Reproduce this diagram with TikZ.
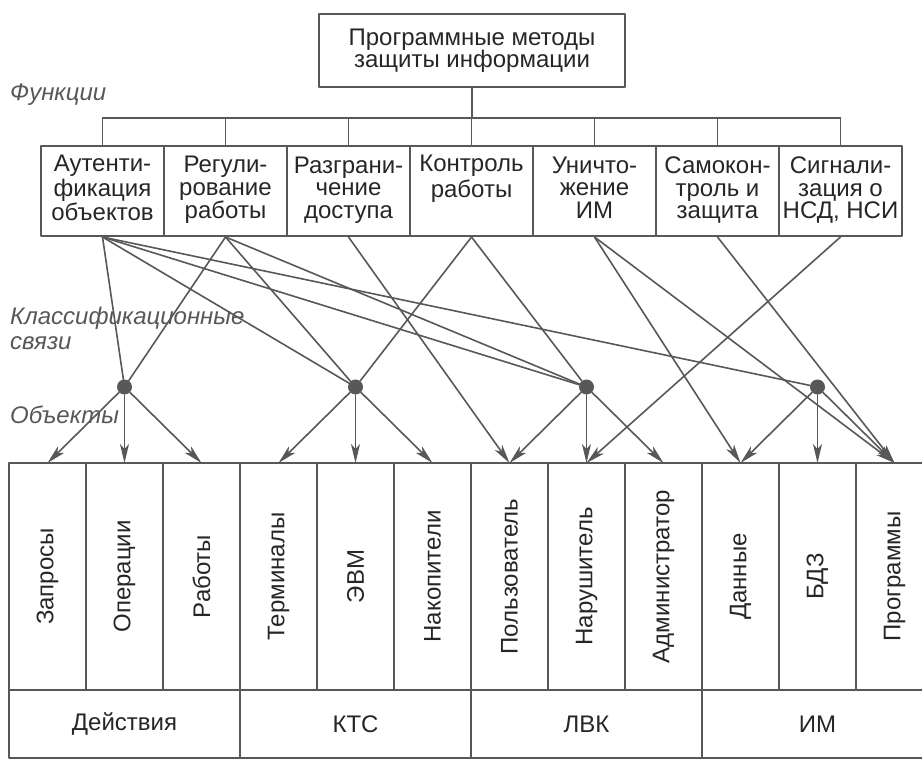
\documentclass[tikz,border=0pt]{standalone}
\usepackage{fontspec}
\usepackage{graphicx}
\setmainfont{Liberation Sans}
\usetikzlibrary{arrows.meta}
\definecolor{ink}{HTML}{262626}
\definecolor{wire}{HTML}{585858}
\begin{document}
\begin{tikzpicture}[x=1pt, y=-1pt, line join=round, line cap=round,
  >={Stealth[length=19pt,width=9pt,inset=5pt]},
  font=\fontsize{24}{22.5}\selectfont, text=ink,
  tbl/.style={draw=wire, line width=1.8pt},
  tbox/.style={tbl, line width=2.2pt, minimum width=306, minimum height=73, align=center, inner sep=0pt},
  fbox/.style={tbl, line width=2pt, minimum width=123, minimum height=90, align=center, inner sep=0pt},
  obox/.style={minimum width=77, minimum height=227, inner sep=0pt, outer sep=0pt},
  gbox/.style={minimum width=231, minimum height=68, inner sep=0pt, outer sep=0pt},
  dot/.style={circle, fill=wire, inner sep=0pt, minimum size=15pt},
  link/.style={draw=wire, line width=1.6pt},
  arr/.style={link, ->},
  side/.style={font=\fontsize{24}{25}\selectfont\itshape, text=wire, anchor=west, align=left, inner sep=0pt}]
\useasboundingbox (0,0) rectangle (922,762);
% верхний блок и функции
\node[tbox] (top) at (472,50.5) {Программные методы\\защиты информации};
\foreach \i/\txt in {1/{Аутенти-\\фикация\\объектов}, 2/{Регули-\\рование\\работы},
  3/{Разграни-\\чение\\доступа}, 4/{Контроль\\работы\\}, 5/{Уничто-\\жение\\ИМ},
  6/{Самокон-\\троль и\\защита}, 7/{Сигнали-\\зация о\\НСД, НСИ}}
  \node[fbox] (f\i) at ({41+123*(\i-0.5)},191) {\strut\txt\strut};
\coordinate (bus) at (472,118);
\draw[tbl] (top) -- (bus);
\draw[tbl] (f1.north |- bus) -- (f7.north |- bus);
\foreach \i in {1,...,7}
  \draw[tbl] (f\i.north) -- (f\i.north |- bus);
% подписи слева
\node[side] (lfun) at (10,95) {Функции};
\node[side, anchor=north west] (lcls) at (10,307) {Классификационные\\связи};
\node[side] (lobj) at (10,415) {Объекты};
% таблица объектов
\draw[tbl] (922,463) -| (9,758) -- (922,758);
\draw[tbl] (9,690) -- (922,690);
\foreach \x in {1,...,11}
  \draw[tbl] ({9+77*\x},463) -- ({9+77*\x},690);
\foreach \x in {1,2,3}
  \draw[tbl] ({9+231*\x},690) -- ({9+231*\x},758);
\foreach \i/\txt in {1/Запросы, 2/Операции, 3/Работы, 4/Терминалы, 5/ЭВМ, 6/Накопители,
  7/Пользователь, 8/Нарушитель, 9/Администратор, 10/Данные, 11/БДЗ, 12/Программы}
  \node[obox] (o\i) at ({9+77*(\i-0.5)},576.5) {\rotatebox{90}{\txt}};
\foreach \i/\txt in {1/Действия, 2/КТС, 3/ЛВК, 4/ИМ}
  \node[gbox] (g\i) at ({9+231*(\i-0.5)},724) {\txt};
% узлы классификации
\foreach \i in {1,...,4}
  \node[dot] (d\i) at ({9+231*(\i-0.5)},387) {};
\foreach \a/\b in {1/1, 1/2, 1/3, 1/4, 2/1, 2/2, 2/3, 4/2, 4/3}
  \draw[link] (f\a.south) -- (d\b);
\foreach \a/\b in {3/7, 5/10, 5/12, 6/12, 7/8}
  \draw[arr] (f\a.south) -- (o\b.north);
\foreach \d in {1,...,4}
  \foreach \k in {1,2,3} {
    \pgfmathtruncatemacro\n{3*(\d-1)+\k}
    \draw[arr] (d\d) -- (o\n.north);
  }
\end{tikzpicture}
\end{document}
